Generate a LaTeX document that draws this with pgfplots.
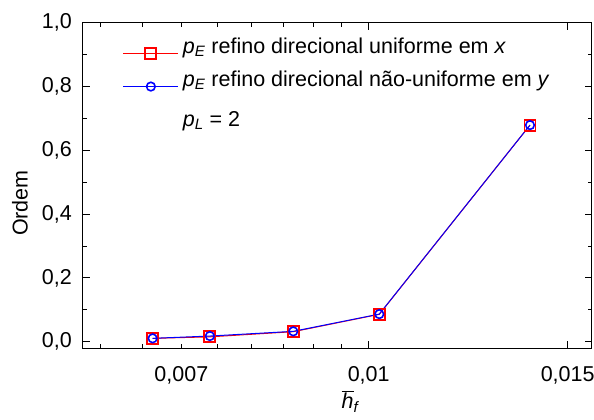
\documentclass[border=0pt]{standalone}
\usepackage{pgfplots}
\pgfplotsset{compat=1.18}
\usepackage{fontspec}
\setmainfont{Liberation Sans}
\begin{document}
\fontsize{21.5}{25}\selectfont
\begin{tikzpicture}
\path[use as bounding box] (-83pt,-71.7pt) rectangle (511pt,348.3pt);
\begin{axis}[
  at={(0pt,0pt)}, anchor=south west,
  scale only axis, width=509pt, height=325.6pt,
  xmode=log, log basis x=10,
  xmin=0.0058029, xmax=0.015301,
  ymin=-0.0206, ymax=1.0,
  axis line style={line width=1pt},
  tick style={black, line width=1pt},
  tick align=inside,
  major tick length=7pt, minor tick length=4pt,
  xtick={0.01,0.014608},
  xticklabels={0{,}01,0{,}015},
  extra x ticks={0.007},
  extra x tick labels={0{,}007},
  extra x tick style={major tick length=4pt},
  minor xtick={0.006,0.0065,0.0075,0.008,0.0085,0.009,0.0095},
  ytick={0,0.2,0.4,0.6,0.8,1.0},
  yticklabels={0{,}0,0{,}2,0{,}4,0{,}6,0{,}8,1{,}0},
  minor ytick={0.1,0.3,0.5,0.7,0.9},
  xticklabel style={inner sep=0pt, anchor=north, yshift=-18pt},
  yticklabel style={inner sep=0pt, anchor=east, xshift=-11pt},
  ylabel={Ordem},
  ylabel style={at={(axis description cs:-0.1238,0.446)}, anchor=center, rotate=0},
  xlabel={$\overline{\mbox{\textit{h}}}$\textsubscript{\textit{f}}},
  xlabel style={at={(axis description cs:0.526,-0.1303)}, anchor=north, inner sep=0pt},
  legend style={draw=none, fill=none, at={(axis description cs:0.078,0.955)}, anchor=north west,
    inner sep=0pt, row sep=11pt,
    nodes={inner sep=0pt, text height=16pt, text depth=6pt, anchor=base west}},
  legend cell align=left,
  legend image code/.code={%
    \draw[#1, mark=none] (0pt,0pt) -- (55pt,0pt);
    \draw[#1, only marks] plot coordinates {(27.5pt,0pt)};},
  every axis legend/.append style={column sep=4pt},
]
\addplot[red, line width=1pt, mark=square, mark size=5.5pt, mark options={line width=1.8pt, fill=white, solid}]
  coordinates {(0.006627,0.0106) (0.007390,0.0153) (0.008662,0.0315) (0.010204,0.0860) (0.013597,0.679)};
\addlegendentry{\textit{p}\textsubscript{\textit{E}} refino direcional uniforme em \textit{x}}
\addplot[blue, line width=1pt, mark=o, mark size=4.3pt, mark options={line width=1.6pt, fill=white, solid}]
  coordinates {(0.006627,0.0106) (0.007390,0.0178) (0.008662,0.0325) (0.010204,0.0866) (0.013597,0.679)};
\addlegendentry{\textit{p}\textsubscript{\textit{E}} refino direcional não-uniforme em \textit{y}}
\addlegendimage{empty legend}
\addlegendentry{\raisebox{-7pt}{\textit{p}\textsubscript{\textit{L}} = 2}}
\end{axis}
\end{tikzpicture}
\end{document}
